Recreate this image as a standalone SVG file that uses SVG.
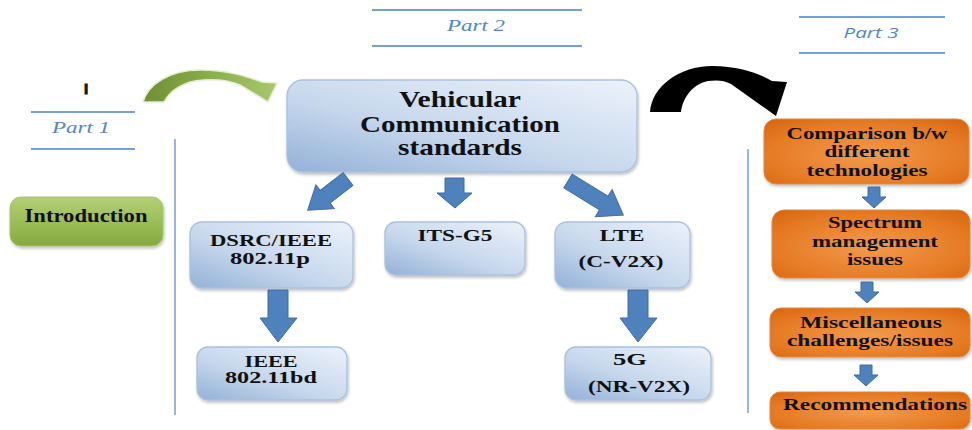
<svg xmlns="http://www.w3.org/2000/svg" width="972" height="430" viewBox="0 0 972 430">
  <defs>
    <linearGradient id="gBlue" x1="0" y1="1" x2="0.9" y2="0">
      <stop offset="0" stop-color="#93b1d8"/>
      <stop offset="0.45" stop-color="#c6d7ec"/>
      <stop offset="1" stop-color="#e9f0f9"/>
    </linearGradient>
    <linearGradient id="gGreen" x1="0" y1="0" x2="0" y2="1">
      <stop offset="0" stop-color="#b3cf78"/>
      <stop offset="0.6" stop-color="#97ba52"/>
      <stop offset="1" stop-color="#86a844"/>
    </linearGradient>
    <radialGradient id="gOrange" cx="0.5" cy="0.55" r="0.7">
      <stop offset="0" stop-color="#f29a4c"/>
      <stop offset="0.7" stop-color="#e57a24"/>
      <stop offset="1" stop-color="#d9670f"/>
    </radialGradient>
    <linearGradient id="gArrowGreen" x1="0" y1="0" x2="1" y2="0">
      <stop offset="0" stop-color="#6f8f33"/>
      <stop offset="0.5" stop-color="#8aae4a"/>
      <stop offset="1" stop-color="#a9c86c"/>
    </linearGradient>
    <filter id="shadow" x="-10%" y="-10%" width="125%" height="130%">
      <feDropShadow dx="1" dy="2" stdDeviation="1.5" flood-color="#000" flood-opacity="0.25"/>
    </filter>
  </defs>
  <style>
    .blue { fill: url(#gBlue); stroke: #a9c1df; stroke-width: 1.3; filter: url(#shadow); }
    .orange { fill: url(#gOrange); stroke: #e08a4a; stroke-width: 1; filter: url(#shadow); }
    .green { fill: url(#gGreen); stroke: #a6c46a; stroke-width: 1; filter: url(#shadow); }
    .lbl { font-family: "Liberation Serif", "Times New Roman", serif; font-weight: bold; fill: #111; text-anchor: middle; }
    .part { font-family: "Liberation Serif", serif; font-style: italic; fill: #4f86cc; font-size: 16px; text-anchor: middle; }
    .part3 { font-family: "Open Sans", "Liberation Sans", sans-serif; font-style: italic; fill: #4f86cc; font-size: 15px; text-anchor: middle; }
    .rule { stroke: #4a7fc4; stroke-width: 1.6; fill: none; }
    .divider { stroke: #7ea3d6; stroke-width: 1.6; fill: none; }
    .barrow { fill: #4f81bd; stroke: #3d6ca6; stroke-width: 1; }
  </style>

  <!-- section headers -->
  <g id="part1">
    <line class="rule" x1="31" y1="112" x2="135" y2="112"/>
    <text class="part" x="81" y="133" textLength="58" lengthAdjust="spacingAndGlyphs">Part 1</text>
    <line class="rule" x1="31" y1="149" x2="135" y2="149"/>
  </g>
  <g id="part2">
    <line class="rule" x1="372" y1="10" x2="582" y2="10"/>
    <text class="part" x="476" y="31" textLength="58" lengthAdjust="spacingAndGlyphs">Part 2</text>
    <line class="rule" x1="372" y1="46" x2="582" y2="46"/>
  </g>
  <g id="part3">
    <line class="rule" x1="799" y1="17" x2="945" y2="17"/>
    <text class="part3" x="871" y="38" textLength="55" lengthAdjust="spacingAndGlyphs">Part 3</text>
    <line class="rule" x1="799" y1="53" x2="945" y2="53"/>
  </g>
  <text x="86" y="94" font-family="Liberation Sans, Arial, sans-serif" font-weight="bold" font-size="15" text-anchor="middle" fill="#111" stroke="#111" stroke-width="0.9">I</text>

  <!-- column dividers -->
  <line class="divider" x1="175" y1="139" x2="175" y2="415"/>
  <line class="divider" x1="748" y1="149" x2="748" y2="413"/>

  <!-- nodes -->
  <g id="introduction">
    <rect class="green" x="10" y="197" width="153" height="49" rx="11"/>
    <text class="lbl" x="86" y="222" font-size="18" textLength="123" lengthAdjust="spacingAndGlyphs">Introduction</text>
  </g>

  <g id="vehicular">
    <rect class="blue" x="287" y="80" width="350" height="92" rx="16"/>
    <text class="lbl" x="460" y="107" font-size="23" textLength="122" lengthAdjust="spacingAndGlyphs">Vehicular</text>
    <text class="lbl" x="460" y="132" font-size="23" textLength="200" lengthAdjust="spacingAndGlyphs">Communication</text>
    <text class="lbl" x="460" y="155" font-size="23" textLength="124" lengthAdjust="spacingAndGlyphs">standards</text>
  </g>

  <g id="dsrc">
    <rect class="blue" x="190" y="222" width="163" height="66" rx="12"/>
    <text class="lbl" x="271" y="246" font-size="16" textLength="122" lengthAdjust="spacingAndGlyphs">DSRC/IEEE</text>
    <text class="lbl" x="270" y="264" font-size="16" textLength="80" lengthAdjust="spacingAndGlyphs">802.11p</text>
  </g>

  <g id="itsg5">
    <rect class="blue" x="385" y="222" width="140" height="53" rx="11"/>
    <text class="lbl" x="455" y="241" font-size="16" textLength="75" lengthAdjust="spacingAndGlyphs">ITS-G5</text>
  </g>

  <g id="lte">
    <rect class="blue" x="555" y="222" width="135" height="66" rx="12"/>
    <text class="lbl" x="622" y="241" font-size="16" textLength="45" lengthAdjust="spacingAndGlyphs">LTE</text>
    <text class="lbl" x="621" y="267" font-size="16" textLength="85" lengthAdjust="spacingAndGlyphs">(C-V2X)</text>
  </g>

  <g id="ieee80211bd">
    <rect class="blue" x="197" y="347" width="150" height="53" rx="11"/>
    <text class="lbl" x="271" y="367" font-size="16" textLength="53" lengthAdjust="spacingAndGlyphs">IEEE</text>
    <text class="lbl" x="271" y="383" font-size="16" textLength="92" lengthAdjust="spacingAndGlyphs">802.11bd</text>
  </g>

  <g id="nr5g">
    <rect class="blue" x="565" y="347" width="146" height="53" rx="11"/>
    <text class="lbl" x="630" y="365" font-size="16" textLength="34" lengthAdjust="spacingAndGlyphs">5G</text>
    <text class="lbl" x="639" y="392" font-size="16" textLength="102" lengthAdjust="spacingAndGlyphs">(NR-V2X)</text>
  </g>

  <g id="comparison">
    <rect class="orange" x="764" y="119" width="205" height="65" rx="12"/>
    <text class="lbl" x="867" y="139" font-size="16" textLength="161" lengthAdjust="spacingAndGlyphs">Comparison b/w</text>
    <text class="lbl" x="867" y="157" font-size="16" textLength="85" lengthAdjust="spacingAndGlyphs">different</text>
    <text class="lbl" x="867" y="176" font-size="16" textLength="121" lengthAdjust="spacingAndGlyphs">technologies</text>
  </g>

  <g id="spectrum">
    <rect class="orange" x="772" y="210" width="198" height="68" rx="12"/>
    <text class="lbl" x="875" y="228" font-size="16" textLength="94" lengthAdjust="spacingAndGlyphs">Spectrum</text>
    <text class="lbl" x="875" y="247" font-size="16" textLength="126" lengthAdjust="spacingAndGlyphs">management</text>
    <text class="lbl" x="875" y="265" font-size="16" textLength="56" lengthAdjust="spacingAndGlyphs">issues</text>
  </g>

  <g id="miscellaneous">
    <rect class="orange" x="770" y="308" width="200" height="49" rx="11"/>
    <text class="lbl" x="871" y="328" font-size="16" textLength="142" lengthAdjust="spacingAndGlyphs">Miscellaneous</text>
    <text class="lbl" x="870" y="346" font-size="16" textLength="166" lengthAdjust="spacingAndGlyphs">challenges/issues</text>
  </g>

  <g id="recommendations">
    <rect class="orange" x="770" y="392" width="200" height="37" rx="10"/>
    <text class="lbl" x="875" y="410" font-size="17" textLength="184" lengthAdjust="spacingAndGlyphs">Recommendations</text>
  </g>

  <!-- connectors -->
  <g id="connectors">
    <!-- curved section arrows -->
    <path d="M143,102 C148,84 170,70 200,70 C228,70 248,77 262,82 L277,83 L268,102 L240,85 C228,80 215,79 203,80 C185,81 170,90 164,102 Z"
          fill="url(#gArrowGreen)" stroke="#e4eed3" stroke-width="1.5"/>
    <path d="M650,112 C652,86 680,66 712,66 C740,66 760,74 772,81 L787,82 L776,116 L731,84 C724,80 716,80 708,81 C693,84 683,97 681,112 Z"
          fill="#000"/>

    <!-- Vehicular to second row -->
    <path class="barrow" transform="translate(348,179) rotate(142.2)" d="M0,-8 H29 V-15 L51,0 L29,15 V8 H0 Z"/>
    <path class="barrow" d="M445,178 H464 V193 H472 L455,208 L437,193 H445 Z"/>
    <path class="barrow" transform="translate(568,181) rotate(31.7)" d="M0,-8 H42 V-16 L65,0 L42,16 V8 H0 Z"/>

    <!-- second to third row -->
    <path class="barrow" d="M268,290 H288 V318 H297 L278,342 L260,318 H268 Z"/>
    <path class="barrow" d="M628,290 H648 V318 H657 L638,342 L620,318 H628 Z"/>

    <!-- part 3 chain -->
    <path class="barrow" d="M868,187 H880 V197 H886 L874,208 L862,197 H868 Z"/>
    <path class="barrow" d="M861,282 H873 V292 H879 L867,303 L855,292 H861 Z"/>
    <path class="barrow" d="M860,365 H872 V375 H878 L866,386 L854,375 H860 Z"/>
  </g>
</svg>
